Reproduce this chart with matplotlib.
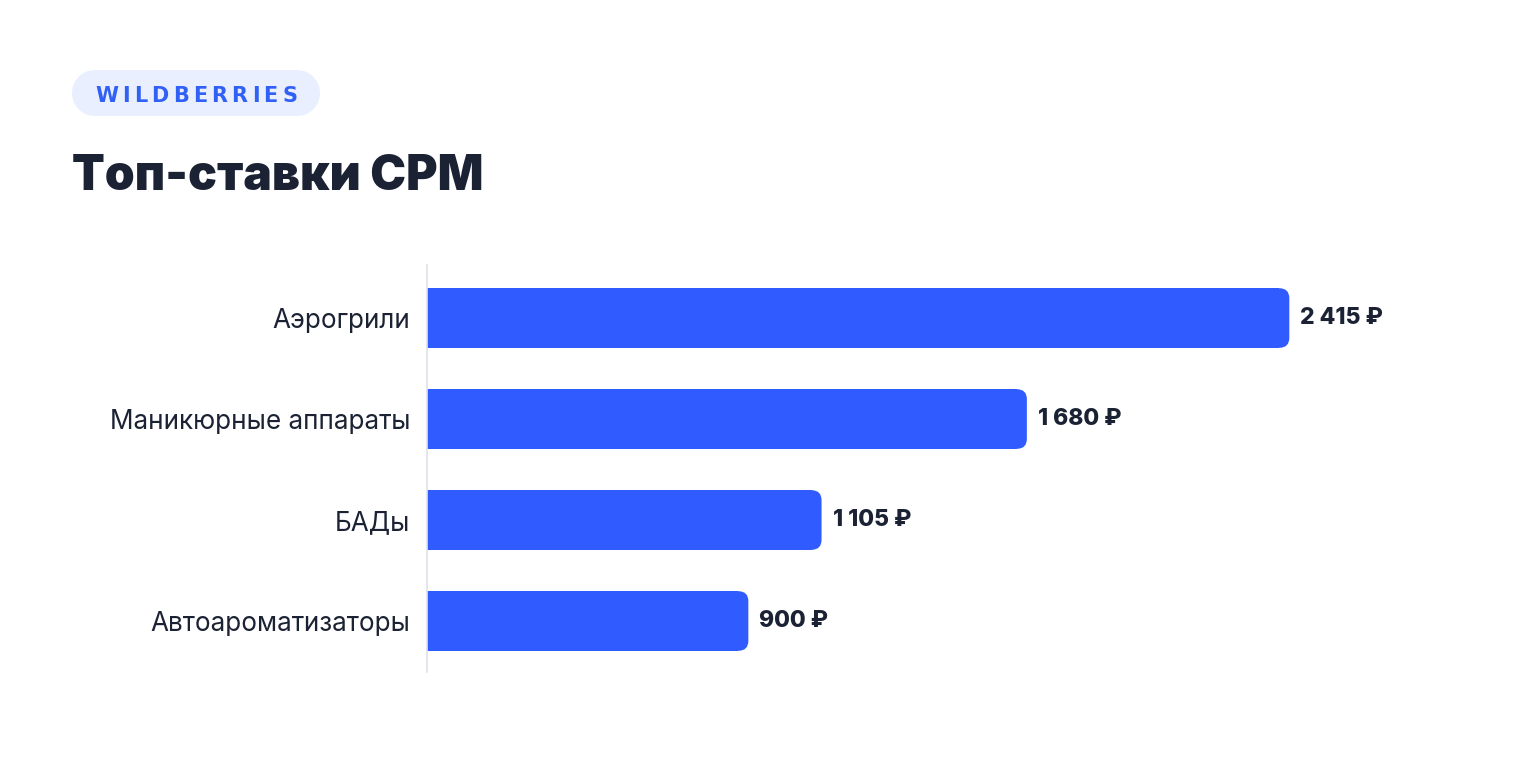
import matplotlib
matplotlib.use("Agg")
import matplotlib.pyplot as plt
from matplotlib.patches import FancyBboxPatch, Rectangle, Circle

plt.rcParams['font.family'] = ['Inter', 'DejaVu Sans']

# data
categories = ["Аэрогрили", "Маникюрные аппараты", "БАДы", "Автоароматизаторы"]
values = [2415, 1680, 1105, 900]

title = "Топ-ставки CPM"
badge = "WILDBERRIES"

bar_color = "#305cff"
dark = "#1b2233"

W, H = 1520, 760
fig = plt.figure(figsize=(W / 100, H / 100), dpi=100)
fig.patch.set_facecolor("white")

# overlay in pixel coordinates for header
ov = fig.add_axes([0, 0, 1, 1])
ov.set_xlim(0, W)
ov.set_ylim(H, 0)
ov.axis("off")

# axes box in pixels
ax_l, ax_r, ax_t, ax_b = 427, 1400, 265, 672
ax = fig.add_axes([ax_l / W, 1 - ax_b / H, (ax_r - ax_l) / W, (ax_b - ax_t) / H])
ax.patch.set_alpha(0)

xmax = 2725
ax.set_xlim(0, xmax)
ax.set_ylim(3.505, -0.525)

bar_h = 0.59
r_px = 10
x_per_px = xmax / (ax_r - ax_l)
y_per_px = (3.505 + 0.525) / (ax_b - ax_t)
r = r_px * x_per_px

# square left part + rounded right end
ax.barh(range(len(values)), [v - r for v in values], height=bar_h, color=bar_color, lw=0)
for i, v in enumerate(values):
    p = FancyBboxPatch((v - 2 * r, i - bar_h / 2), 2 * r, bar_h,
                       boxstyle=f"round,pad=0,rounding_size={r}",
                       mutation_aspect=y_per_px / x_per_px,
                       fc=bar_color, ec="none", lw=0)
    ax.add_patch(p)
    label = f"{v:,}".replace(",", " ") + " ₽"
    ax.annotate(label, (v, i), xytext=(8, 0), textcoords="offset points",
                va="center", ha="left", fontsize=16.5, fontweight="heavy", color=dark)

ax.set_yticks(range(len(categories)), categories)
ax.tick_params(axis="y", length=0, pad=12, labelsize=18.8, labelcolor=dark)
ax.set_xticks([])
for s in ["top", "right", "bottom"]:
    ax.spines[s].set_visible(False)
ax.spines["left"].set_color("#dfe2e8")
ax.spines["left"].set_linewidth(1.2)

# badge: pill shape
bx, by, bw, bh = 72, 70, 248, 46
rad = bh / 2
badge_bg = "#e9effe"
ov.add_patch(Rectangle((bx + rad, by), bw - 2 * rad, bh, fc=badge_bg, ec="none"))
ov.add_patch(Circle((bx + rad, by + rad), rad, fc=badge_bg, ec="none"))
ov.add_patch(Circle((bx + bw - rad, by + rad), rad, fc=badge_bg, ec="none"))

# letter-spaced badge text
renderer = fig.canvas.get_renderer()
chars = []
for ch in badge:
    t = ov.text(0, by + bh / 2 + 1, ch, ha="left", va="center_baseline", fontsize=15,
                fontweight="bold", color="#3160f5", family=["DejaVu Sans"])
    chars.append((t, t.get_window_extent(renderer).width))
target_w = 202
gap = (target_w - sum(w for _, w in chars)) / (len(chars) - 1)
x = 95
for t, w in chars:
    t.set_x(x)
    x += w + gap

# title
ov.text(72, 190, title, ha="left", va="baseline",
        fontsize=34.5, fontweight="black", color=dark)

fig.savefig("out.png", dpi=100, facecolor="white")
